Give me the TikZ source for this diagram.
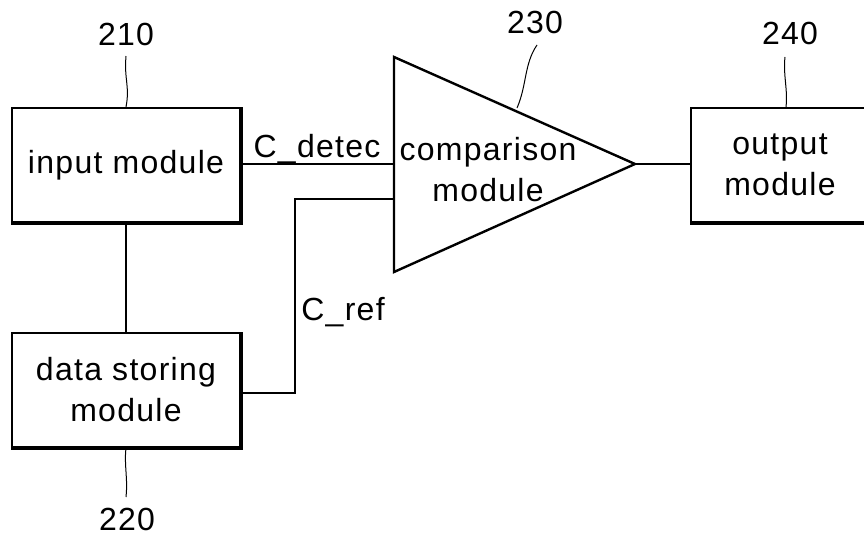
\documentclass[tikz,border=0pt]{standalone}
\usepackage{fontspec}
\setmainfont{Liberation Sans}[LetterSpace=4.0]
\begin{document}
\begin{tikzpicture}[x=1pt,y=-1pt,
  font=\fontsize{32}{41}\selectfont,
  box/.style={draw, line width=2pt, minimum width=228pt, minimum height=114pt, inner sep=0pt, align=center},
  shadowedge/.style={line width=2.5pt, line cap=rect},
  wire/.style={line width=2pt},
  leader/.style={line width=1pt},
  tri/.style={line width=2.4pt, line join=miter},
  lbl/.style={anchor=base, inner sep=0pt}]
\useasboundingbox (0,0) rectangle (864,538);
\begin{scope}
\clip (0,0) rectangle (864,538);
% boxes
\node[box] (in) at (126,165) {input module};
\node[box] (ds) at (126,390) {data storing\\module};
\node[box, minimum width=178pt] (out) at (780,165) {output\\module};
% shadow edges
\draw[shadowedge] ([shift={(1pt,-1pt)}]in.north east) -- ([shift={(1pt,-1pt)}]in.south east) -- ([shift={(1pt,-1pt)}]in.south west);
\draw[shadowedge] ([shift={(1pt,-1pt)}]ds.north east) -- ([shift={(1pt,-1pt)}]ds.south east) -- ([shift={(1pt,-1pt)}]ds.south west);
\draw[shadowedge] ([shift={(1pt,-1pt)}]out.south east) -- ([shift={(1pt,-1pt)}]out.south west);
% triangle
\coordinate (ta) at (394,57);
\coordinate (tb) at (394,272);
\coordinate (tt) at (635,164);
\draw[tri] (ta) -- (tt) -- (tb) -- cycle;
\node[align=center, inner sep=0pt] (cmp) at (488,170) {comparison\\module};
\coordinate (cin1) at (394,164);
\coordinate (cin2) at (394,199);
\coordinate (bend1) at (295,393);
\coordinate (bend2) at (295,199);
% connectors
\draw[wire] (in.east |- cin1) -- (cin1);
\draw[wire] (in.south) -- (ds.north);
\draw[wire] (ds.east |- bend1) -- (bend1) -- (bend2) -- (cin2);
\draw[wire] (tt) -- (out.west |- tt);
% signal labels
\node[lbl] (cdet) at (317,157) {C\_detec};
\node[lbl] (cref) at (343,320) {C\_ref};
% reference numerals
\node[lbl] (n210) at (126,45) {210};
\node[lbl] (n220) at (127,530) {220};
\node[lbl] (n230) at (535,33) {230};
\node[lbl] (n240) at (790,44) {240};
\coordinate (l210) at (126,56);
\coordinate (l220) at (126,497);
\coordinate (l230) at (537,45);
\coordinate (l230e) at (517,108);
\coordinate (l240) at (785,57);
\draw[leader] (l210) .. controls (124,80) and (130,86) .. (in.north);
\draw[leader] (ds.south) .. controls (124,465) and (128,478) .. (l220);
\draw[leader] (l230) .. controls (524,64) and (527,85) .. (l230e);
\draw[leader] (l240) .. controls (783,75) and (788,90) .. (out.north west -| 786,108);
\end{scope}
\end{tikzpicture}
\end{document}
